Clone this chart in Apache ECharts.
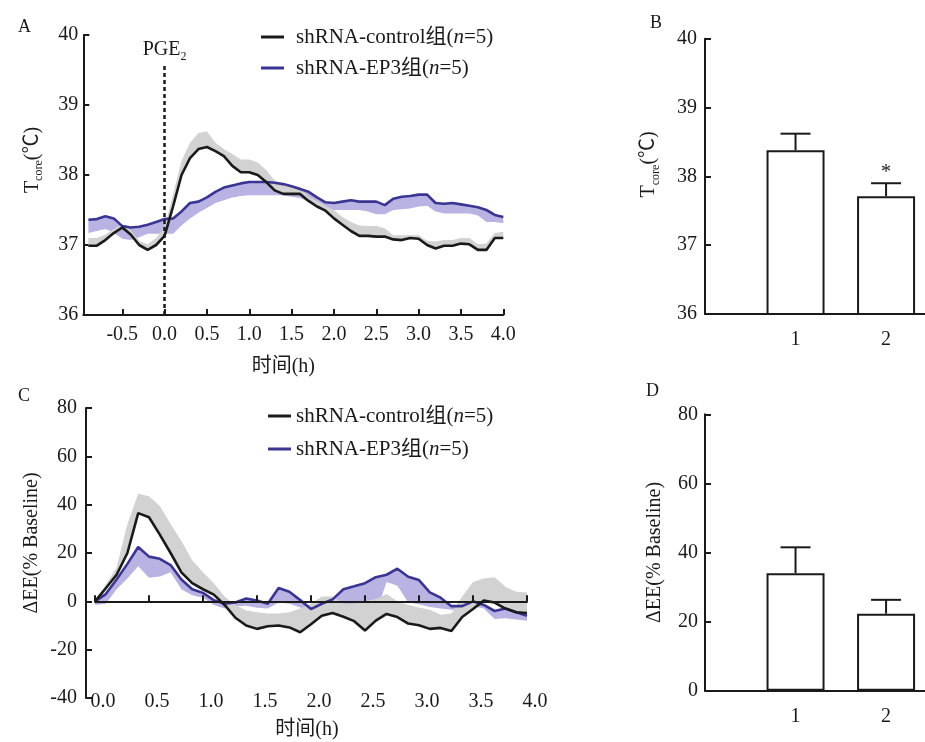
<!DOCTYPE html>
<html><head><meta charset="utf-8">
<script src="https://cdn.jsdelivr.net/npm/echarts@6/dist/echarts.min.js"></script>
<style>html,body{margin:0;padding:0;background:#fff}#c{width:925px;height:742px}</style>
</head><body><div id="c"></div>
<script>
// ---------- Panel A : core temperature time course ----------
const timeA = [-0.9,-0.8,-0.7,-0.6,-0.5,-0.4,-0.3,-0.2,-0.1,0.0,
  0.1,0.2,0.3,0.4,0.5,0.6,0.7,0.8,0.9,1.0,
  1.1,1.2,1.3,1.4,1.5,1.6,1.7,1.8,1.9,2.0,
  2.1,2.2,2.3,2.4,2.5,2.6,2.7,2.8,2.9,3.0,
  3.1,3.2,3.3,3.4,3.5,3.6,3.7,3.8,3.9,4.0];
const ctrlA = [36.99,36.99,37.07,37.17,37.25,37.15,37.00,36.93,37.00,37.13,
  37.55,38.00,38.24,38.37,38.40,38.34,38.27,38.13,38.04,38.04,
  38.00,37.90,37.78,37.73,37.73,37.73,37.63,37.55,37.49,37.38,
  37.29,37.20,37.13,37.13,37.12,37.12,37.08,37.07,37.10,37.09,
  37.00,36.95,36.99,36.99,37.02,37.01,36.93,36.93,37.10,37.10];
const ctrlSemA = [0.11,0.11,0.08,0.06,0.05,0.06,0.06,0.08,0.10,0.12,
  0.17,0.20,0.22,0.23,0.22,0.12,0.10,0.17,0.18,0.18,
  0.18,0.17,0.14,0.13,0.12,0.10,0.06,0.08,0.07,0.12,
  0.11,0.13,0.15,0.14,0.15,0.12,0.06,0.07,0.04,0.05,
  0.06,0.10,0.08,0.08,0.08,0.09,0.08,0.09,0.07,0.09];
const ep3A = [37.36,37.37,37.41,37.38,37.27,37.25,37.26,37.29,37.33,37.37,
  37.38,37.48,37.60,37.62,37.68,37.76,37.82,37.85,37.88,37.90,
  37.90,37.90,37.89,37.87,37.84,37.80,37.76,37.68,37.61,37.60,
  37.62,37.64,37.62,37.62,37.62,37.57,37.66,37.69,37.70,37.72,
  37.72,37.60,37.59,37.60,37.58,37.56,37.54,37.50,37.43,37.40];
const ep3SemA = [0.19,0.17,0.18,0.20,0.18,0.18,0.15,0.13,0.17,0.21,
  0.22,0.20,0.22,0.16,0.15,0.16,0.18,0.17,0.18,0.19,
  0.19,0.19,0.18,0.16,0.15,0.13,0.14,0.12,0.11,0.10,
  0.12,0.14,0.12,0.14,0.18,0.13,0.16,0.18,0.18,0.17,
  0.16,0.12,0.14,0.15,0.13,0.11,0.12,0.17,0.10,0.09];
const ticksA = [-0.5,0,0.5,1,1.5,2,2.5,3,3.5,4];
const pgeTime = 0;
const pgeLineTop = 39.56;

// ---------- Panel C : energy expenditure time course ----------
const timeC = [0.0,0.1,0.2,0.3,0.4,0.5,0.6,0.7,0.8,0.9,
  1.0,1.1,1.2,1.3,1.4,1.5,1.6,1.7,1.8,1.9,
  2.0,2.1,2.2,2.3,2.4,2.5,2.6,2.7,2.8,2.9,
  3.0,3.1,3.2,3.3,3.4,3.5,3.6,3.7,3.8,3.9,4.0];
const ctrlC = [0,5.4,11,20,36.5,34.8,27.6,20,12,7.5,
  5,2.8,-1.5,-6.8,-10,-11.4,-10.3,-10,-10.8,-12.8,
  -9.5,-6,-4.8,-6.4,-8.2,-12.1,-8,-5.2,-6.5,-9.2,
  -9.9,-11.4,-11,-12.3,-6.5,-3.2,0.3,-0.5,-3,-4.5,-4.8];
const ctrlSemC = [0,1.5,3,12,8,8.7,11.9,12,13,9.5,
  7,4.7,3.5,5.3,6.2,6.9,5.3,5,6.3,9.8,
  8.5,8,6.8,5.4,7.2,12.1,9,8.2,6.5,7.7,
  7.4,7.9,5.5,7.3,8.5,11.2,9.2,10.5,9,8.5,8.5];
const ep3C = [0,3,9,15.5,22.5,18.5,17.6,15,9,5,
  3.5,0.5,-1,-0.5,1.2,0.3,-1,5.5,4,0.5,
  -3.2,-1,0.8,5,6.2,7.5,10,11,13.5,10.2,
  8.8,3.7,1.5,-2,-2,0,-1.5,-4,-3,-4.5,-6];
const ep3SemC = [1.5,4,4,6,8,8.7,7.3,3,4,2.5,
  2,2,2,1.5,3,3,2,6,5,3,
  1.5,2.5,4,10,12,13.5,15,3,7,10.7,
  10,6,4.5,1.5,1.8,2,1.5,3.3,4,3,2];

// ---------- Panels B and D : bars ----------
const groups = [1, 2];
const tcoreMean = [38.38, 37.71];
const tcoreSem = [0.24, 0.19];
const sigB = ['', '*'];
const eeMean = [34.0, 22.3];
const eeSem = [7.5, 4.0];
const sigD = ['', ''];

const nameCtrl = 'shRNA-control组(n=5)';
const nameEp3 = 'shRNA-EP3组(n=5)';

// ---------- styling ----------
const FF = "'Liberation Serif','Noto Sans CJK SC',serif";
const INK = '#1a1a1a';
const PURPLE = '#3a3592';
const PURPLE_BAND = '#b8b3e3';
const GREY_BAND = '#d2d2d2';
const txt = {fontFamily: FF, fontSize: 20, color: INK};
const aLine = {show: true, onZero: false, lineStyle: {color: INK, width: 2}};
const subRich = {
  n: {fontFamily: FF, fontSize: 20, color: INK, lineHeight: 26, verticalAlign: 'middle'},
  s: {fontFamily: FF, fontSize: 12, color: INK, lineHeight: 12, verticalAlign: 'bottom'}
};

const pairs = (t, v) => t.map((x, i) => [x, v[i]]);
const minus = (m, s) => m.map((v, i) => v - s[i]);
const plus = (m, s) => m.map((v, i) => v + s[i]);

// shaded SEM band between lo and hi, drawn through the axis scales
function band(xi, yi, t, lo, hi, color) {
  return {
    type: 'custom', xAxisIndex: xi, yAxisIndex: yi, silent: true, animation: false,
    data: [[t[0], lo[0]]], encode: {x: 0, y: 1},
    renderItem: function (params, api) {
      const pts = [];
      for (let i = 0; i < t.length; i++) pts.push(api.coord([t[i], hi[i]]));
      for (let i = t.length - 1; i >= 0; i--) pts.push(api.coord([t[i], lo[i]]));
      return {type: 'polygon', shape: {points: pts}, style: {fill: color}};
    }
  };
}
function meanLine(xi, yi, t, v, name, color, extra) {
  return Object.assign({type: 'line', name: name, xAxisIndex: xi, yAxisIndex: yi, data: pairs(t, v),
    symbol: 'none', color: color, lineStyle: {color: color, width: 2.6}, animation: false}, extra || {});
}
function errSeries(xi, yi, mean, sem, sig) {
  return {
    type: 'custom', xAxisIndex: xi, yAxisIndex: yi, silent: true, animation: false, z: 5,
    data: groups.map((g, i) => [g, mean[i], mean[i] + sem[i]]),
    encode: {x: 0, y: [1, 2]},
    renderItem: function (params, api) {
      const x = api.value(0);
      const p0 = api.coord([x, api.value(1)]);
      const p1 = api.coord([x, api.value(2)]);
      const st = {stroke: INK, lineWidth: 2};
      const ch = [
        {type: 'line', shape: {x1: p0[0], y1: p0[1], x2: p1[0], y2: p1[1]}, style: st},
        {type: 'line', shape: {x1: p1[0] - 15, y1: p1[1], x2: p1[0] + 15, y2: p1[1]}, style: st}
      ];
      const s = sig[params.dataIndex];
      if (s) ch.push({type: 'text', style: {text: s, x: p1[0], y: p1[1] - 20, align: 'center',
        verticalAlign: 'top', fontFamily: FF, fontSize: 20, fill: INK}});
      return {type: 'group', children: ch};
    }
  };
}
const legendFmt = name => name.replace('(n=', '({i|n}=');
function legend(left, top, gap, pad) {
  return {left: left, top: top, padding: 0, orient: 'vertical', itemWidth: 23, itemHeight: 3, itemGap: gap,
    icon: 'rect', selectedMode: false, data: [nameCtrl, nameEp3], formatter: legendFmt,
    textStyle: {fontFamily: FF, fontSize: 21, color: INK, padding: [0, 0, 0, pad],
      rich: {i: {fontFamily: FF, fontSize: 21, fontStyle: 'italic', color: INK}}}};
}
const fmt1 = v => (+v).toFixed(1);
const letter = (t, l, tp) => ({text: t, left: l, top: tp,
  textStyle: {fontFamily: FF, fontSize: 18, fontWeight: 'normal', color: INK}});

const option = {
  backgroundColor: '#fff',
  animation: false,
  title: [letter('A', 13, 13), letter('B', 645, 9), letter('C', 13, 382), letter('D', 641, 377)],
  legend: [legend(261, 26.5, 10, 7), legend(268, 405.5, 12, 0)],
  grid: [
    {left: 83.3, top: 35, width: 420, height: 280},
    {left: 705, top: 38.7, width: 220, height: 275.3},
    {left: 95, top: 408, width: 432, height: 290},
    {left: 705, top: 414.3, width: 220, height: 276.4},
    {left: 95, top: 408, width: 432, height: 290}
  ],
  xAxis: [
    {gridIndex: 0, type: 'value', min: -0.96, max: 4, axisLine: aLine,
     axisTick: {inside: true, length: 6, customValues: ticksA, lineStyle: {color: INK, width: 2}},
     axisLabel: Object.assign({}, txt, {customValues: ticksA, formatter: fmt1, margin: 10}),
     splitLine: {show: false},
     name: '时间(h)', nameLocation: 'middle', nameGap: 42,
     nameTextStyle: Object.assign({}, txt, {padding: [0, 20, 0, 0]})},
    {gridIndex: 1, type: 'value', min: 0, max: 2.43, axisLine: aLine, axisTick: {show: false},
     axisLabel: Object.assign({}, txt, {customValues: groups, margin: 16}), splitLine: {show: false}},
    {gridIndex: 2, type: 'value', min: 0, max: 4, interval: 0.5, z: 10,
     axisLine: {show: true, onZero: true, lineStyle: {color: INK, width: 2}},
     axisTick: {inside: true, length: 6, lineStyle: {color: INK, width: 2}},
     axisLabel: {show: false}, splitLine: {show: false}},
    {gridIndex: 3, type: 'value', min: 0, max: 2.43, axisLine: aLine, axisTick: {show: false},
     axisLabel: Object.assign({}, txt, {customValues: groups, margin: 16}), splitLine: {show: false}},
    {gridIndex: 4, type: 'value', min: 0, max: 4, interval: 0.5,
     axisLine: {show: false, onZero: false}, axisTick: {show: false},
     axisLabel: Object.assign({}, txt, {formatter: fmt1, margin: 4, verticalAlign: 'middle', padding: [0, 0, 0, 16]}),
     splitLine: {show: false},
     name: '时间(h)', nameLocation: 'middle', nameGap: 22,
     nameTextStyle: Object.assign({}, txt, {padding: [0, 8, 0, 0]})}
  ],
  yAxis: [
    {gridIndex: 0, type: 'value', min: 36, max: 40, interval: 1, axisLine: aLine,
     axisTick: {inside: true, length: 6, lineStyle: {color: INK, width: 2}},
     axisLabel: Object.assign({}, txt, {margin: 5}), splitLine: {show: false},
     name: '{n|T}{s|core}{n|(℃)}', nameLocation: 'middle', nameRotate: 90, nameGap: 38,
     nameTextStyle: {padding: [0, 0, 0, 30], rich: subRich}},
    {gridIndex: 1, type: 'value', min: 36, max: 40, interval: 1, axisLine: aLine,
     axisTick: {inside: true, length: 6, lineStyle: {color: INK, width: 2}},
     axisLabel: Object.assign({}, txt, {margin: 8}), splitLine: {show: false},
     name: '{n|T}{s|core}{n|(℃)}', nameLocation: 'middle', nameRotate: 90, nameGap: 43,
     nameTextStyle: {padding: [0, 0, 0, 24], rich: subRich}},
    {gridIndex: 2, type: 'value', min: -40, max: 80, interval: 20, offset: 9, axisLine: aLine,
     axisTick: {inside: true, length: 6, lineStyle: {color: INK, width: 2}},
     axisLabel: Object.assign({}, txt, {margin: 9}), splitLine: {show: false},
     name: 'ΔEE(% Baseline)', nameLocation: 'middle', nameRotate: 90, nameGap: 44,
     nameTextStyle: Object.assign({}, txt, {padding: [0, 0, 0, 20]})},
    {gridIndex: 3, type: 'value', min: 0, max: 80, interval: 20, axisLine: aLine,
     axisTick: {inside: true, length: 6, lineStyle: {color: INK, width: 2}},
     axisLabel: Object.assign({}, txt, {margin: 7}), splitLine: {show: false},
     name: 'ΔEE(% Baseline)', nameLocation: 'middle', nameRotate: 90, nameGap: 40,
     nameTextStyle: Object.assign({}, txt)},
    {gridIndex: 4, type: 'value', show: false}
  ],
  series: [
    band(0, 0, timeA, minus(ep3A, ep3SemA), ep3A, PURPLE_BAND),
    meanLine(0, 0, timeA, ep3A, nameEp3, PURPLE),
    band(0, 0, timeA, ctrlA, plus(ctrlA, ctrlSemA), GREY_BAND),
    meanLine(0, 0, timeA, ctrlA, nameCtrl, INK, {
      markLine: {symbol: 'none', silent: true, animation: false,
        lineStyle: {color: INK, width: 2.5, type: [4, 3]},
        label: {show: true, position: 'end', distance: 3, formatter: '{n|PGE}{s|2}', rich: subRich},
        data: [[{coord: [pgeTime, 36]}, {coord: [pgeTime, pgeLineTop]}]]}
    }),
    {type: 'bar', xAxisIndex: 1, yAxisIndex: 1, barWidth: 58, data: pairs(groups, tcoreMean),
     itemStyle: {color: '#fff', borderColor: INK, borderWidth: 2}, silent: true},
    errSeries(1, 1, tcoreMean, tcoreSem, sigB),
    band(2, 2, timeC, minus(ep3C, ep3SemC), ep3C, PURPLE_BAND),
    meanLine(2, 2, timeC, ep3C, nameEp3, PURPLE),
    band(2, 2, timeC, ctrlC, plus(ctrlC, ctrlSemC), GREY_BAND),
    meanLine(2, 2, timeC, ctrlC, nameCtrl, INK),
    {type: 'bar', xAxisIndex: 3, yAxisIndex: 3, barWidth: 58, data: pairs(groups, eeMean),
     itemStyle: {color: '#fff', borderColor: INK, borderWidth: 2}, silent: true},
    errSeries(3, 3, eeMean, eeSem, sigD)
  ]
};
echarts.init(document.getElementById('c'), null, {renderer: 'canvas'}).setOption(option);
</script>
</body></html>
